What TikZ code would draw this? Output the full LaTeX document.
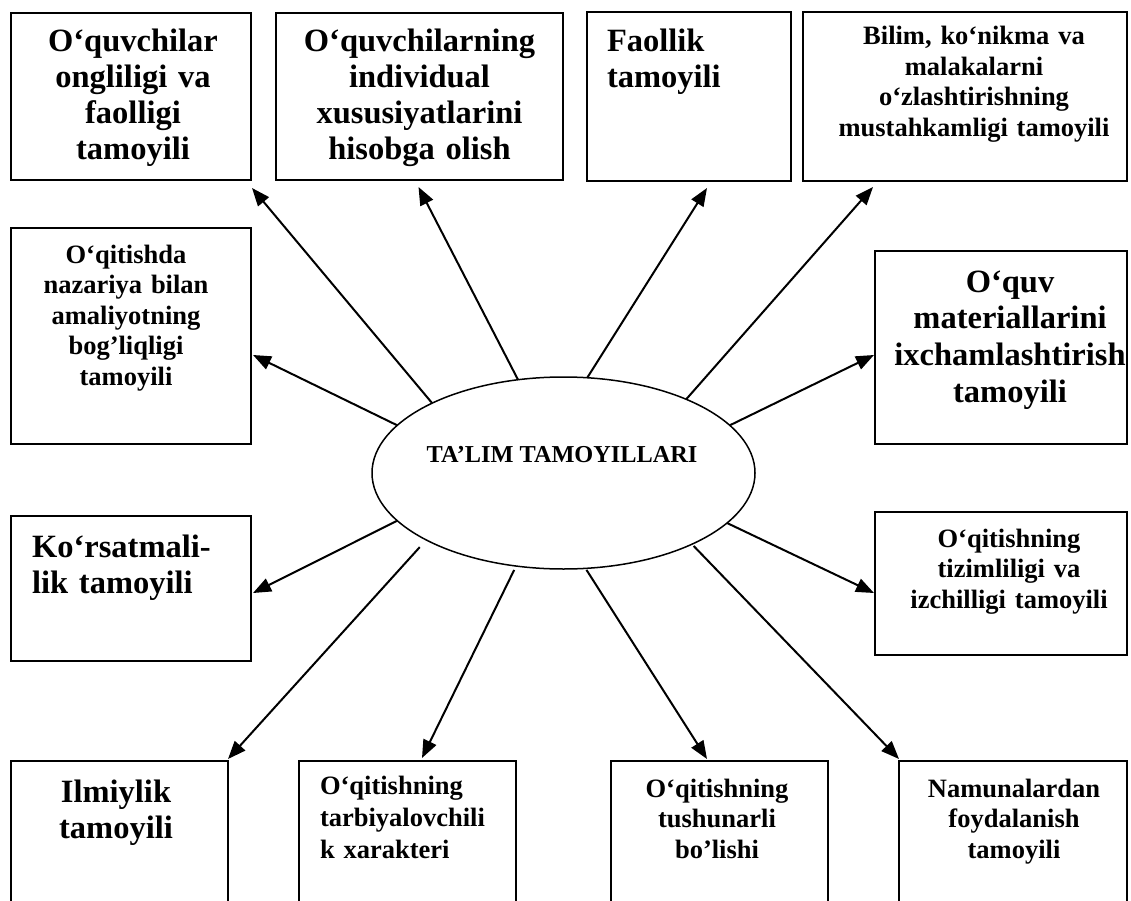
\documentclass[tikz,border=0pt]{standalone}
\usepackage{fontspec}
\setmainfont{Liberation Serif}
\usetikzlibrary{arrows.meta,calc,shapes.geometric}
\begin{document}
\begin{tikzpicture}[x=1pt,y=-1pt,
  box/.style={draw, rectangle, line width=1.8pt, inner sep=0pt, outer sep=0pt},
  bigtxt/.style={font=\fontsize{32.5}{36}\selectfont\bfseries, inner sep=0pt, outer sep=0pt},
  smalltxt/.style={font=\fontsize{26.5}{30.5}\selectfont\bfseries, inner sep=0pt, outer sep=0pt},
  ctr/.style={align=center, anchor=base},
  lft/.style={align=left, anchor=base west},
  arr/.style={line width=2pt, -{Triangle[length=18pt,width=14pt]}}
]
\path[use as bounding box] (0,0) rectangle (1131,901);
\clip (0,0) rectangle (1131,901);
\fill[white] (0,0) rectangle (1131,901);

% boxes
\node[box, minimum width=240pt, minimum height=167pt] (b1) at (131,96.5) {};
\node[box, minimum width=287pt, minimum height=167pt] (b2) at (419.5,96.5) {};
\node[box, minimum width=204pt, minimum height=169pt] (b3) at (689,96.5) {};
\node[box, minimum width=324pt, minimum height=169pt] (b4) at (965,96.5) {};
\node[box, minimum width=240pt, minimum height=216pt] (b5) at (131,336) {};
\node[box, minimum width=252pt, minimum height=193pt] (b6) at (1001,347.5) {};
\node[box, minimum width=240pt, minimum height=145pt] (b7) at (131,588.5) {};
\node[box, minimum width=217pt, minimum height=160pt] (b8) at (119.5,841) {};
\node[box, minimum width=217pt, minimum height=160pt] (b9) at (407.5,841) {};
\node[box, minimum width=252pt, minimum height=143pt] (b10) at (1001,583.5) {};
\node[box, minimum width=217pt, minimum height=160pt] (b11) at (719.5,841) {};
\node[box, minimum width=228pt, minimum height=160pt] (b12) at (1013,841) {};

% centre
\node[draw, ellipse, line width=1.5pt, minimum width=383pt, minimum height=192pt, inner sep=0pt, outer sep=0pt] (c) at (563.5,473) {};
\node[font=\fontsize{24.3}{28}\selectfont\bfseries, inner sep=0pt, anchor=base] (ct) at (562,462) {TA’LIM TAMOYILLARI};

% texts
\node[bigtxt, ctr, text width=236pt] (t1) at (133,52) {O‘quvchilar\\ongliligi va\\faolligi\\tamoyili};
\node[bigtxt, ctr, text width=284pt] (t2) at (419.5,52) {O‘quvchilarning\\individual\\xususiyatlarini\\hisobga olish};
\node[bigtxt, lft, text width=180pt] (t3) at (607,52) {Faollik\\tamoyili};
\node[smalltxt, ctr, text width=320pt] (t4) at (974,45) {Bilim, ko‘nikma va\\malakalarni\\o‘zlashtirishning\\mustahkamligi tamoyili};
\node[smalltxt, ctr, text width=236pt] (t5) at (126,263) {O‘qitishda\\nazariya bilan\\amaliyotning\\bog’liqligi\\tamoyili};
\node[bigtxt, ctr, text width=250pt, font=\fontsize{32.5}{36.7}\selectfont\bfseries] (t6) at (1010,292) {O‘quv\\materiallarini\\ixchamlashtirish\\tamoyili};
\node[bigtxt, lft, text width=215pt] (t7) at (32,557) {Ko‘rsatmali-\\lik tamoyili};
\node[bigtxt, ctr, text width=210pt] (t8) at (116,802) {Ilmiylik\\tamoyili};
\node[smalltxt, lft, text width=195pt, font=\fontsize{26.5}{32}\selectfont\bfseries] (t9) at (320,794) {O‘qitishning\\tarbiyalovchili\\k xarakteri};
\node[smalltxt, ctr, text width=250pt] (t10) at (1009,547) {O‘qitishning\\tizimliligi va\\izchilligi tamoyili};
\node[smalltxt, ctr, text width=215pt] (t11) at (717,797) {O‘qitishning\\tushunarli\\bo’lishi};
\node[smalltxt, ctr, text width=225pt] (t12) at (1014,797) {Namunalardan\\foydalanish\\tamoyili};

% connectors
\draw[arr] (c.152) -- ($(b1.south east)+(1,8)$);
\draw[arr] (c.116.3) -- ($(b2.south)+(-1,7)$);
\draw[arr] (c.76.2) -- ($(b3.south)+(18,7)$);
\draw[arr] (c.31) -- ($(b4.south west)+(70,6)$);
\draw[arr] (c.164) -- ($(b5.east)+(2,19)$);
\draw[arr] (c.16) -- ($(b6.west)+(-1,7.5)$);
\draw[arr] (c.196.3) -- ($(b7.east)+(2,4.5)$);
\draw[arr, shorten <=9.7pt] (c.206.5) -- ($(b8.north east)+(0,-2)$);
\draw[arr, shorten <=4.4pt] (c.243.4) -- ($(b9.north)+(14.5,-3)$);
\draw[arr] (c.343.7) -- ($(b10.west)+(-1,9.5)$);
\draw[arr, shorten <=1.8pt] (c.283.6) -- ($(b11.north)+(-12.5,-2)$);
\draw[arr, shorten <=2.5pt] (c.331.3) -- ($(b12.north west)+(0,-2)$);
\end{tikzpicture}
\end{document}
